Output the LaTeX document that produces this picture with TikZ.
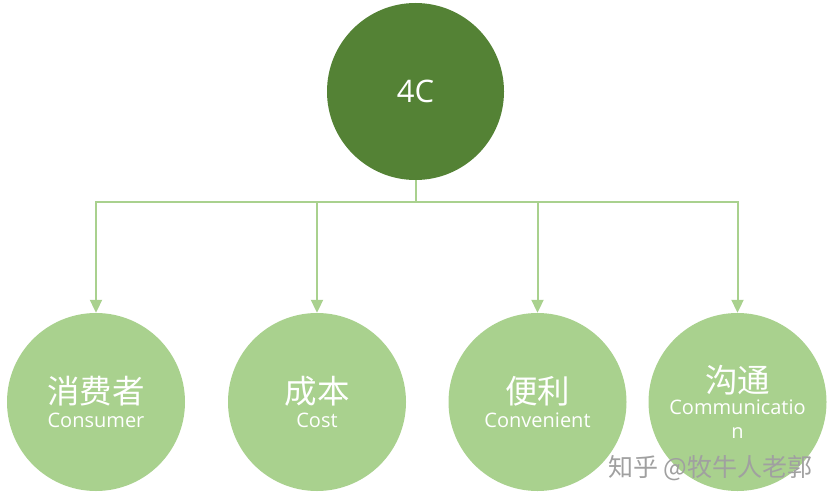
\documentclass[tikz,border=0pt]{standalone}
\usepackage{fontspec}
\setmainfont{Open Sans}
\newfontfamily\cjk{Noto Sans CJK SC}
\usetikzlibrary{arrows.meta}
\definecolor{darkgreen}{HTML}{548235}
\definecolor{lightgreen}{HTML}{A9D18E}
\definecolor{markgray}{HTML}{A0A0A0}
\tikzset{
	topcircle/.style={circle, fill=darkgreen, minimum size=177pt, inner sep=0pt, text=white, font=\fontsize{31}{32}\selectfont},
	leafcircle/.style={circle, fill=lightgreen, minimum size=178pt, inner sep=0pt, text=white, align=center, font=\fontsize{20}{24}\selectfont},
	link/.style={color=lightgreen, line width=2pt},
	arrow/.style={link, -{Triangle[length=13pt,width=12pt]}}
}
\newcommand{\cn}[1]{{\cjk\fontsize{32.5}{32}\selectfont #1}}
\begin{document}
\begin{tikzpicture}[x=1pt,y=-1pt]
	\useasboundingbox (0,0) rectangle (834,503);

	\node[topcircle] (c0) at (415.5,91.5) {4C};
	\node[leafcircle] (c1) at (96,402) {\cn{消费者}\\[0pt]Consumer};
	\node[leafcircle] (c2) at (317,402) {\cn{成本}\\[0pt]Cost};
	\node[leafcircle] (c3) at (537.5,402) {\cn{便利}\\[0pt]Convenient};
	\node[leafcircle] (c4) at (737.5,402) {\cn{沟通}\\[-2pt]Communicatio\\n};
	\coordinate (bus) at (415.5,202);

	\draw[link] (c0.south) -- (c0.south |- bus);
	\foreach \i in {1,...,4}{
	\draw[arrow] (c0.south |- bus) -| (c\i.north);
	}

	\node[text=markgray, font=\cjk\fontsize{25}{25}\selectfont] (mark) at (710.5,468) {知乎 @牧牛人老郭};
\end{tikzpicture}
\end{document}
